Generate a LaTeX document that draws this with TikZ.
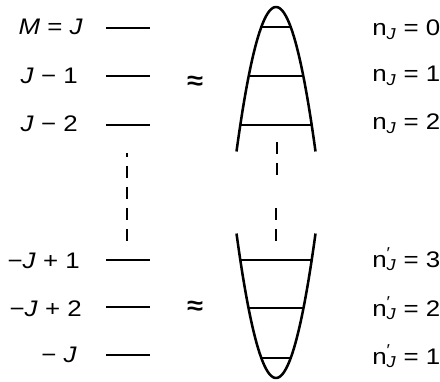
\documentclass[tikz,border=0pt]{standalone}
\usepackage{fontspec}
\setmainfont{Liberation Sans}[FakeStretch=1.15]
\usetikzlibrary{positioning}

\newcommand{\nJ}{n\textsubscript{\itshape J}}
\newcommand{\npJ}{n\rlap{\textsuperscript{′}}\textsubscript{\itshape J}}

\begin{document}
\begin{tikzpicture}[x=0.025cm, y=-0.025cm, font=\fontsize{16}{19}\selectfont,
  lvl/.style={line width=1.8pt},
  well/.style={line width=1.8pt},
  gap/.style={line width=1.8pt, dash pattern=on 8.5pt off 6.4pt},
  mlab/.style={anchor=base east, inner sep=0pt},
  nlab/.style={anchor=base west, inner sep=0pt},
  approx/.style={font=\fontsize{18}{20}\selectfont\bfseries, inner sep=0pt}]
  \useasboundingbox (0,0) rectangle (440,381);

  % M levels
  \node[mlab] (m0) at (83,35)  {\textit{M} = \textit{J}};
  \node[mlab] (m1) at (78,83)  {\textit{J} − 1};
  \node[mlab] (m2) at (78,132) {\textit{J} − 2};
  \node[mlab] (m3) at (80,268) {−\textit{J} + 1};
  \node[mlab] (m4) at (82,316) {−\textit{J} + 2};
  \node[mlab] (m5) at (77,362) {− \textit{J}};
  \foreach \y/\n in {28/a, 76/b, 125/c, 260/d, 307/e, 355/f} {
    \coordinate (l\n) at (106,\y);
    \coordinate (r\n) at (150,\y);
    \draw[lvl] (l\n) -- (r\n);
  }
  \coordinate (dtop) at (127,153);
  \coordinate (dbot) at (127,241);
  \draw[gap, dash phase=5.7pt] (dtop) -- (dbot);

  \node[approx] (ap1) at (195,83)  {≈};
  \node[approx] (ap2) at (195,308) {≈};

  % upper well
  \draw[well] plot[domain=-39.5:39.5, samples=60, smooth] ({276+\x},{7+\x*\x/10.8});
  \foreach \y/\w/\n in {27/14.7/a, 76/27.3/b, 125/35.7/c} {
    \coordinate (ul\n) at (276-\w,\y);
    \coordinate (ur\n) at (276+\w,\y);
    \draw[well] (ul\n) -- (ur\n);
  }
  % lower well
  \draw[well] plot[domain=-39.5:39.5, samples=60, smooth] ({276+\x},{378-\x*\x/10.8});
  \foreach \y/\w/\n in {260/35.7/a, 308/27.5/b, 358/14.7/c} {
    \coordinate (bl\n) at (276-\w,\y);
    \coordinate (br\n) at (276+\w,\y);
    \draw[well] (bl\n) -- (br\n);
  }
  \coordinate (g1) at (277,142);
  \coordinate (g2) at (277,175);
  \coordinate (g3) at (276,208);
  \coordinate (g4) at (276,241);
  \draw[gap] (g1) -- (g2);
  \draw[gap] (g3) -- (g4);

  % vibrational quanta
  \node[nlab] (n0) at (372,36)  {\nJ\ = 0};
  \node[nlab] (n1) at (372,82)  {\nJ\ = 1};
  \node[nlab] (n2) at (372,130) {\nJ\ = 2};
  \node[nlab] (n3) at (372,267) {\npJ\ = 3};
  \node[nlab] (n4) at (372,316) {\npJ\ = 2};
  \node[nlab] (n5) at (372,364) {\npJ\ = 1};
\end{tikzpicture}
\end{document}
